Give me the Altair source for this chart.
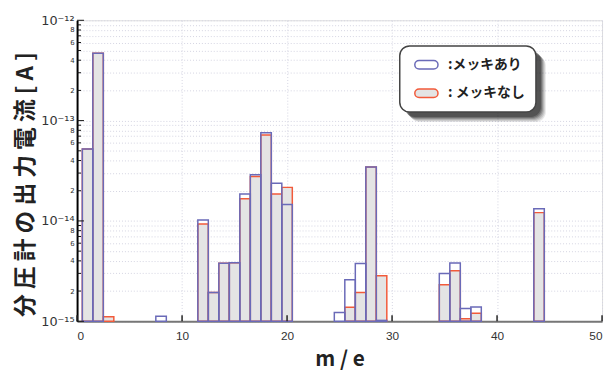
import altair as alt
import pandas as pd

# ---- data ----
series_names = ["メッキあり", "メッキなし"]

mz_plated = [1, 2, 8, 12, 13, 14, 15, 16, 17, 18, 19, 20, 25, 26, 27, 28, 29, 35, 36, 37, 38, 44]
i_plated = [5.2e-14, 4.7e-13, 1.12e-15, 1.02e-14, 1.93e-15, 3.79e-15, 3.82e-15, 1.86e-14,
            2.88e-14, 7.55e-14, 2.37e-14, 1.46e-14, 1.22e-15, 2.59e-15, 3.76e-15, 3.44e-14,
            1.02e-15, 2.99e-15, 3.81e-15, 1.34e-15, 1.39e-15, 1.32e-14]

mz_bare = [1, 2, 3, 12, 13, 14, 15, 16, 17, 18, 19, 20, 26, 27, 28, 29, 35, 36, 37, 38, 44]
i_bare = [5.2e-14, 4.7e-13, 1.11e-15, 9.3e-15, 1.93e-15, 3.79e-15, 3.82e-15, 1.66e-14,
          2.77e-14, 7.2e-14, 1.86e-14, 2.16e-14, 1.38e-15, 1.93e-15, 3.44e-14, 2.84e-15,
          2.31e-15, 3.18e-15, 1.06e-15, 1.2e-15, 1.21e-14]

x_ticks = [0, 10, 20, 30, 40, 50]
y_major = [1e-15, 1e-14, 1e-13, 1e-12]
y_minor = [m * d for d in [1e-15, 1e-14, 1e-13] for m in range(2, 10)]

BLUE = "#6a6ab8"
RED = "#f25a3a"
GRAY = "#e4e4e4"
W, H = 532, 305

df = pd.concat([
    pd.DataFrame({"m": mz_bare, "current": i_bare, "series": series_names[1]}),
    pd.DataFrame({"m": mz_plated, "current": i_plated, "series": series_names[0]}),
], ignore_index=True)

xscale = alt.Scale(domain=[0, 50], nice=False, zero=False)
yscale = alt.Scale(type="log", domain=[1e-15, 1e-12], nice=False)

is_dec = "abs(log(datum.value)/LN10 - round(log(datum.value)/LN10)) < 0.01"
ex = "round(log(datum.value)/LN10)"
mant = "round(datum.value / pow(10, floor(log(datum.value)/LN10 + 1e-6)))"
label_expr = (
    f"({is_dec}) ? ({ex} == -12 ? '10⁻¹²' : {ex} == -13 ? '10⁻¹³' : {ex} == -14 ? '10⁻¹⁴' : '10⁻¹⁵')"
    f" : ({mant} % 2 == 0 ? toString({mant}) : '')"
)

x_axis = alt.Axis(values=x_ticks, ticks=False, labelPadding=9, labelFontSize=12,
                  labelColor="#333", labelFont="Liberation Sans", grid=True,
                  gridColor="#d4d4e2", gridDash=[1, 2], gridWidth=1,
                  domainColor="#777", domainWidth=2,
                  title="m / e", titleFont="Noto Sans CJK JP", titleFontSize=21,
                  titleFontWeight="bold", titleColor="#222", titleBaseline="alphabetic",
                  titleY=45)
y_axis = alt.Axis(values=y_major + y_minor, ticks=False, labelPadding=3, labelOverlap=False,
                  labelExpr=label_expr, labelColor="#333", labelFont="DejaVu Sans",
                  labelFontSize={"condition": {"test": is_dec, "value": 13}, "value": 7},
                  grid=True, gridColor="#d4d4e2", gridDash=[1, 2], gridWidth=1,
                  domainColor="#000", domainWidth=2,
                  title="分 圧 計 の 出 力 電 流 [ A ]", titleFont="Noto Sans CJK JP",
                  titleFontSize=23, titleFontWeight="bold", titleColor="#222",
                  titleAngle=270, titleAlign="center", titleBaseline="middle",
                  titleX=-52, titleY=166)

base = alt.Chart(df).transform_calculate(
    x0="datum.m - 0.5", x1="datum.m + 0.5", base="1e-15"
)

white_under = base.transform_filter(
    alt.datum.series == series_names[0]
).mark_rect(fill="white", strokeWidth=0).encode(
    x=alt.X("x0:Q", scale=xscale, axis=x_axis), x2="x1:Q",
    y=alt.Y("current:Q", scale=yscale, axis=y_axis), y2="base:Q",
)

pill = "M-0.62,-0.36 L0.62,-0.36 A0.36,0.36 0 0 1 0.62,0.36 L-0.62,0.36 A0.36,0.36 0 0 1 -0.62,-0.36 Z"
legend = alt.Legend(title=None, orient="none", legendX=341, legendY=32, padding=0,
                    symbolType=pill, symbolSize=576, symbolStrokeWidth=1.5,
                    rowPadding=8, labelOffset=9,
                    labelExpr="datum.label == 'メッキなし' ? ': ' + datum.label : ':' + datum.label",
                    labelFont="Noto Sans CJK JP", labelFontSize=14, labelFontWeight="bold",
                    labelColor="#222")

bars = base.mark_rect(strokeWidth=1.5).encode(
    x=alt.X("x0:Q", scale=xscale), x2="x1:Q",
    y=alt.Y("current:Q", scale=yscale), y2="base:Q",
    fill=alt.Fill("series:N", scale=alt.Scale(domain=series_names, range=["transparent", GRAY]),
                  legend=legend),
    stroke=alt.Stroke("series:N", scale=alt.Scale(domain=series_names, range=[BLUE, RED]),
                      legend=legend),
)

one = pd.DataFrame({"k": [0]})
# legend box: drop shadow + rounded frame
bx0, bx1, by0, by1 = 327, 465, 26, 93
shadows = []
for off, op in [(10, 0.10), (9, 0.12), (8, 0.15), (7, 0.2), (6, 0.25), (5, 0.3)]:
    shadows.append(
        alt.Chart(one).mark_rect(cornerRadius=10, fill="#111", opacity=op).encode(
            x=alt.value(bx0 + off), x2=alt.value(bx1 + off),
            y=alt.value(by0 + off), y2=alt.value(by1 + off))
    )
box = alt.Chart(one).mark_rect(cornerRadius=10, fill="white", stroke="#444",
                               strokeWidth=1.5).encode(
    x=alt.value(bx0), x2=alt.value(bx1), y=alt.value(by0), y2=alt.value(by1))

ymaj = alt.Chart(pd.DataFrame({"v": y_major})).mark_rule(color="#111", strokeWidth=1).encode(
    y=alt.Y("v:Q", scale=yscale), x=alt.value(0), x2=alt.value(7))
ymin = alt.Chart(pd.DataFrame({"v": y_minor})).mark_rule(color="#111", strokeWidth=1).encode(
    y=alt.Y("v:Q", scale=yscale), x=alt.value(0), x2=alt.value(4))
xtk = alt.Chart(pd.DataFrame({"v": x_ticks})).mark_rule(color="#222", strokeWidth=1.5).encode(
    x=alt.X("v:Q", scale=xscale), y=alt.value(H), y2=alt.value(H - 6))

chart = alt.layer(white_under, bars, *shadows, box, ymaj, ymin, xtk).properties(
    width=W, height=H,
    padding={"left": 70, "top": 10, "right": 4, "bottom": 51},
    autosize=alt.AutoSizeParams(type="none"),
).configure_view(stroke="#808080", strokeWidth=1.5).configure(background="white")

chart.save("out.html", embed_options={"renderer": "svg", "actions": False})
